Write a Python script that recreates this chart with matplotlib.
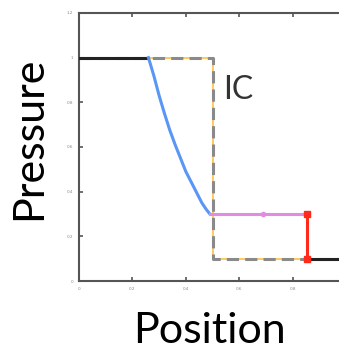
import matplotlib
matplotlib.use('Agg')
import matplotlib.pyplot as plt

# initial condition (step)
ic_x = [0.0, 0.5, 0.5, 0.852, 1.0]
ic_p = [1.0, 1.0, 0.1, 0.1, 0.1]

# left / right states
left_x = [0.0, 0.26]
left_p = [1.0, 1.0]
right_x = [0.852, 1.0]
right_p = [0.1, 0.1]

# rarefaction fan
fan_x = [0.26, 0.28, 0.30, 0.32, 0.34, 0.36, 0.38, 0.40, 0.43, 0.46, 0.475, 0.49]
fan_p = [1.0, 0.92, 0.83, 0.75, 0.675, 0.61, 0.55, 0.49, 0.42, 0.35, 0.323, 0.30]

# contact region
contact_x = [0.49, 0.687, 0.852]
contact_p = [0.30, 0.30, 0.30]

# shock
shock_x = [0.852, 0.852]
shock_p = [0.30, 0.10]

fig = plt.figure(figsize=(3.39, 3.5), dpi=100)
ax = fig.add_axes([0.233, 0.197, 0.788, 0.766])

ax.plot(ic_x, ic_p, color='#ffc040', lw=1.2, zorder=1)
ax.plot(ic_x, ic_p, color='#8a8a8a', lw=2.2, dashes=(4, 2), zorder=2)

ax.plot(left_x, left_p, color='#222222', lw=2.2, zorder=3)
ax.plot(right_x, right_p, color='#222222', lw=2.2, zorder=3)
ax.plot(fan_x, fan_p, color='#5a96f5', lw=2.2, zorder=4)
ax.plot(contact_x, contact_p, color='#e08ce0', lw=2.2, zorder=4)
ax.plot(contact_x[1], contact_p[1], 'o', color='#e08ce0', ms=3, zorder=4)
ax.plot(shock_x, shock_p, color='#ff2a1a', lw=2.2, marker='s', ms=4, zorder=5)

ax.text(0.54, 0.855, 'IC', fontsize=23, family='Lato', color='#333333', va='center', ha='left')

ax.set_xlim(0, 1)
ax.set_ylim(0, 1.2)
ax.set_xticks([0, 0.2, 0.4, 0.6, 0.8])
ax.set_xticklabels(['0', '0.2', '0.4', '0.6', '0.8'])
ax.set_yticks([0, 0.2, 0.4, 0.6, 0.8, 1.0, 1.2])
ax.set_yticklabels(['0', '0.2', '0.4', '0.6', '0.8', '1', '1.2'])
ax.tick_params(direction='in', length=3, width=1.2, labelsize=3, colors='#555555',
               labelcolor='#888888', top=True, pad=4)
for s in ax.spines.values():
    s.set_color('#555555')
    s.set_linewidth(1.5)

fig.text(0.086, 0.606, 'Pressure', rotation=90, fontsize=31, family='Lato', ha='center', va='center')
fig.text(0.617, 0.054, 'Position', fontsize=31, family='Lato', ha='center', va='center')

fig.savefig('out.png', dpi=100)
